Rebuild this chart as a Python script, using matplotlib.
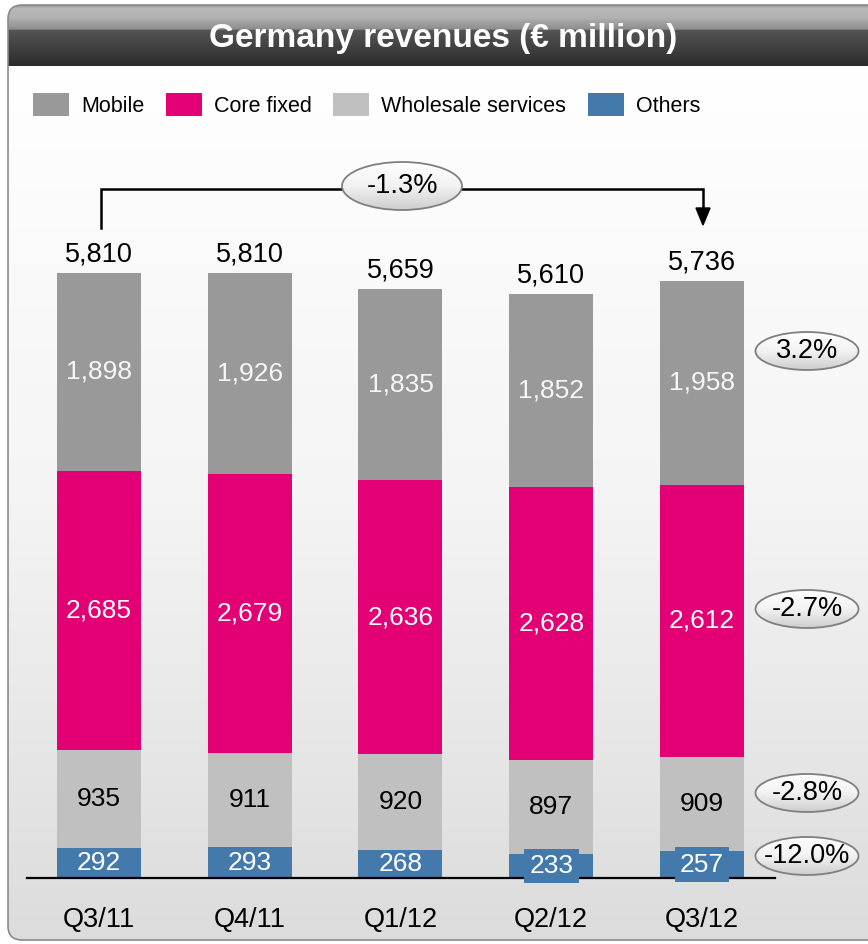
import numpy as np
import matplotlib
matplotlib.use('Agg')
import matplotlib.pyplot as plt
from matplotlib.colors import LinearSegmentedColormap
from matplotlib.patches import FancyBboxPatch, Ellipse, Polygon

plt.rcParams['font.family'] = ['Liberation Sans', 'DejaVu Sans']

# data (EUR million)
quarters = ['Q3/11', 'Q4/11', 'Q1/12', 'Q2/12', 'Q3/12']
others = [292, 293, 268, 233, 257]
wholesale = [935, 911, 920, 897, 909]
core_fixed = [2685, 2679, 2636, 2628, 2612]
mobile = [1898, 1926, 1835, 1852, 1958]
totals = [5810, 5810, 5659, 5610, 5736]
# yoy change Q3/12 vs Q3/11
change_labels = ['3.2%', '-2.7%', '-2.8%', '-12.0%']   # mobile, core fixed, wholesale, others
total_change = '-1.3%'

series_names = ['Mobile', 'Core fixed', 'Wholesale services', 'Others']
colors = ['#999999', '#e20074', '#c0c0c0', '#4479ac']
text_colors = ['#f6f6f6', 'white', 'black', 'white']

W, H = 868, 944
fig = plt.figure(figsize=(W / 100, H / 100), dpi=100)


def pixel_axes(z):
    a = fig.add_axes([0, 0, 1, 1], zorder=z)
    a.set_xlim(0, W)
    a.set_ylim(H, 0)
    a.axis('off')
    a.patch.set_visible(False)
    return a


def gradient(a, box, cmap, clip, z=1):
    x0, x1, y0, y1 = box
    g = np.linspace(0, 1, 256).reshape(-1, 1)
    im = a.imshow(g, cmap=cmap, extent=(x0, x1, y1, y0), aspect='auto',
                  origin='upper', zorder=z, interpolation='bilinear')
    im.set_clip_path(clip)


# ---- background panel + title bar
bg = pixel_axes(0)
panel_cm = LinearSegmentedColormap.from_list('panel', ['#ffffff', '#f4f4f4', '#dcdcdc'])
title_cm = LinearSegmentedColormap.from_list(
    'title', [(0, '#8f8f8f'), (0.05, '#b8b8b8'), (0.2, '#b2b2b2'), (0.4, '#8c8c8c'),
              (0.41, '#545454'), (1, '#2c2c2c')])
panel = FancyBboxPatch((8, 5), 940, 935, boxstyle='round,pad=0,rounding_size=14',
                       facecolor='none', edgecolor='none')
bg.add_patch(panel)
gradient(bg, (8, 948, 66, 940), panel_cm, panel)
gradient(bg, (8, 948, 5, 66), title_cm, panel, z=2)
bg.add_patch(FancyBboxPatch((8, 5), 940, 935, boxstyle='round,pad=0,rounding_size=14',
                            facecolor='none', edgecolor='#8a8a8a', lw=1.2, zorder=3))
bg.text(443, 38, 'Germany revenues (€ million)', color='white', fontsize=24,
        fontweight='bold', ha='center', va='center', zorder=4)
bg.set_xlim(0, W)
bg.set_ylim(H, 0)

# ---- stacked bars
ax = fig.add_axes([0, 0, 1, 1], zorder=1)
ax.patch.set_visible(False)
ax.axis('off')
x_step, x_first = 150.75, 99        # pixels per category, centre of first bar
y_scale, base_px = 0.10413, 878     # pixels per EUR million, baseline
ax.set_xlim(-x_first / x_step, (W - x_first) / x_step)
ax.set_ylim(-(H - base_px) / y_scale, base_px / y_scale)

x = np.arange(len(quarters))
bw = 84 / x_step
stack = [mobile, core_fixed, wholesale, others]
bottom = np.zeros(len(quarters))
handles = {}
for name, vals, col, tcol in zip(series_names[::-1], stack[::-1], colors[::-1], text_colors[::-1]):
    vals = np.array(vals)
    bars = ax.bar(x, vals, bw, bottom=bottom, color=col, zorder=2)
    handles[name] = bars
    for xi, b, v in zip(x, bottom, vals):
        kw = {}
        if name == 'Others' and v < 260:
            kw['bbox'] = dict(boxstyle='square,pad=0.2', facecolor=col, edgecolor='none')
        ax.text(xi, b + v / 2, f'{v:,}', ha='center', va='center', fontsize=19,
                color=tcol, zorder=5, **kw)
    bottom = bottom + vals

ax.axhline(0, xmin=27 / W, xmax=775 / W, color='black', lw=1.6, zorder=4)

for xi, t in zip(x, totals):
    ax.annotate(f'{t:,}', (xi, t), xytext=(0, 13), textcoords='offset points',
                ha='center', va='center', fontsize=19.5)
for xi, q in zip(x, quarters):
    ax.annotate(q, (xi, 0), xytext=(0, -30.5), textcoords='offset points',
                ha='center', va='center', fontsize=19.5)

leg = ax.legend([handles[n] for n in series_names], series_names, loc='center left',
                bbox_to_anchor=(33 / W, 1 - 105 / H), bbox_transform=fig.transFigure,
                ncol=4, frameon=False, fontsize=15.5, handlelength=1.68,
                handleheight=1.26, handletextpad=0.55, columnspacing=1.0,
                borderpad=0, borderaxespad=0)

# ---- change bubbles and bracket
fg = pixel_axes(2)
bubble_cm = LinearSegmentedColormap.from_list('bubble', ['#ffffff', '#f2f2f2', '#cdcdcd'])


def bubble(cx, cy, w, h, label):
    e = Ellipse((cx, cy), w, h, facecolor='none', edgecolor='none')
    fg.add_patch(e)
    gradient(fg, (cx - w / 2, cx + w / 2, cy - h / 2, cy + h / 2), bubble_cm, e, z=3)
    fg.add_patch(Ellipse((cx, cy), w, h, facecolor='none', edgecolor='#7f7f7f', lw=1.3, zorder=4))
    fg.text(cx, cy, label, ha='center', va='center', fontsize=19.5, zorder=5)


fg.plot([101, 101, 703, 703], [228, 189, 189, 212], color='black', lw=1.8, zorder=2,
        solid_joinstyle='miter')
fg.add_patch(Polygon([(696, 208), (710, 208), (703, 225)], closed=True, color='black', zorder=2))
bubble(402, 186, 120, 48, total_change)

bubble_y = [351, 609, 793, 856]
for y, lab in zip(bubble_y, change_labels):
    bubble(807, y, 103, 38, lab)

fg.set_xlim(0, W)
fg.set_ylim(H, 0)

fig.savefig('out.png', dpi=100)
